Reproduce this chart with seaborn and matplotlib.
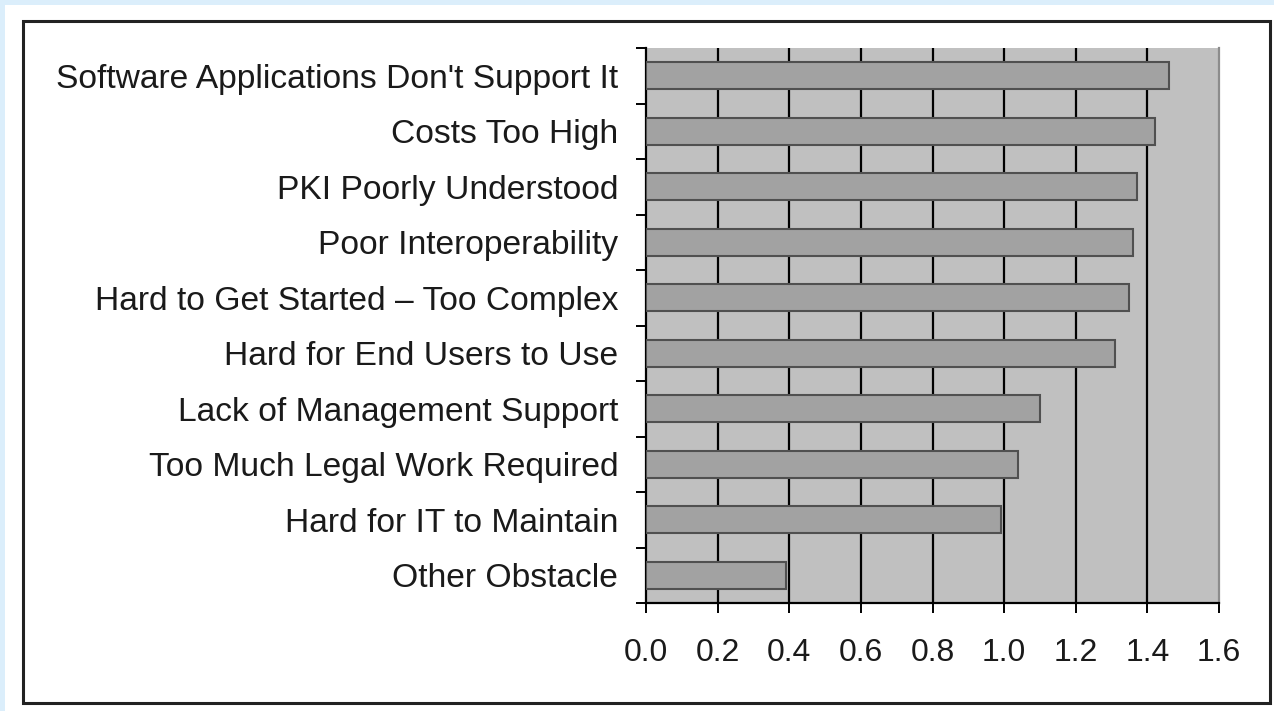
import numpy as np
import pandas as pd
import seaborn as sns
import matplotlib.pyplot as plt
from matplotlib.patches import Rectangle

OBSTACLES = [
    "Software Applications Don't Support It",
    "Costs Too High",
    "PKI Poorly Understood",
    "Poor Interoperability",
    "Hard to Get Started \u2013 Too Complex",
    "Hard for End Users to Use",
    "Lack of Management Support",
    "Too Much Legal Work Required",
    "Hard for IT to Maintain",
    "Other Obstacle",
]
SCORES = [1.46, 1.42, 1.37, 1.36, 1.35, 1.31, 1.10, 1.04, 0.99, 0.39]
X_TICKS = [0.0, 0.2, 0.4, 0.6, 0.8, 1.0, 1.2, 1.4, 1.6]

W, H = 1274, 711

sns.set_style("white")
plt.rcParams['font.family'] = ['Liberation Sans', 'DejaVu Sans']

df = pd.DataFrame({"obstacle": OBSTACLES, "score": SCORES})

fig = plt.figure(figsize=(W / 100, H / 100), dpi=100)
fig.patch.set_facecolor("#dbeefb")

# white panel and the black frame round the chart (kept behind the axes)
fig.patches.append(Rectangle((5 / W, 0), 1, 1 - 5 / H, transform=fig.transFigure,
                             facecolor="white", edgecolor="none", zorder=-10))
fig.patches.append(Rectangle((23 / W, 1 - 703 / H), (1270 - 23) / W, (703 - 21) / H,
                             transform=fig.transFigure, fill=False,
                             edgecolor="#222222", linewidth=2.2, zorder=-9))

ax = fig.add_axes([646 / W, 1 - 603 / H, (1219 - 646) / W, (603 - 48) / H])
ax.set_facecolor("#c0c0c0")

sns.barplot(data=df, x="score", y="obstacle", orient="h", color="#a2a2a2",
            saturation=1, width=0.48, edgecolor="#505050", linewidth=1.5,
            ax=ax, zorder=3)

for xv in X_TICKS[1:-1]:
    ax.axvline(xv, color="black", linewidth=1.6, zorder=1)

ax.set_xlim(X_TICKS[0], X_TICKS[-1])
ax.set_ylim(len(OBSTACLES) - 0.5, -0.5)
ax.set_xticks(X_TICKS)
ax.set_xticklabels([f"{v:.1f}" for v in X_TICKS])
ax.set_yticks(np.arange(len(OBSTACLES) + 1) - 0.5, minor=True)

ax.tick_params(axis="x", which="major", direction="out", length=7, width=1.4,
               color="black", pad=18, labelsize=23, labelcolor="#1a1a1a")
ax.tick_params(axis="y", which="major", length=0, pad=20, labelsize=24.2,
               labelcolor="#1a1a1a")
ax.tick_params(axis="y", which="minor", direction="out", length=7, width=1.4,
               color="black", left=True)
ax.xaxis.set_ticks_position("bottom")

ax.set_xlabel("")
ax.set_ylabel("")
for side in ["left", "bottom"]:
    ax.spines[side].set_color("black")
    ax.spines[side].set_linewidth(1.6)
ax.spines["top"].set_visible(False)
ax.spines["right"].set_color("#8c8c8c")
ax.spines["right"].set_linewidth(1.6)

fig.savefig("out.png", dpi=100, facecolor=fig.get_facecolor())
